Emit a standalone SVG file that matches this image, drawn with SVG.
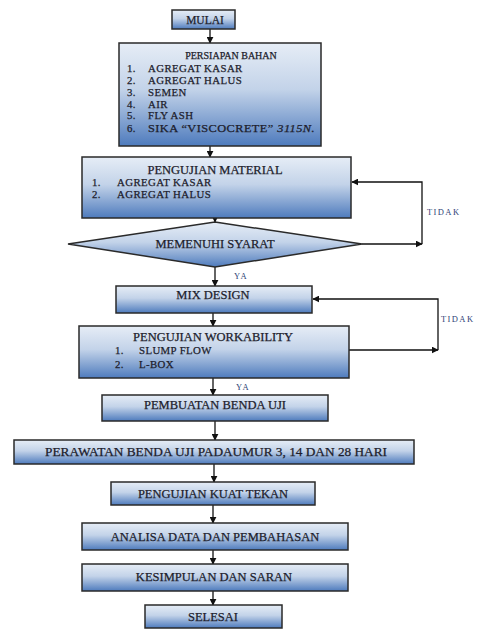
<svg xmlns="http://www.w3.org/2000/svg" width="481" height="629" viewBox="0 0 481 629">
<defs>
<linearGradient id="g" x1="0" y1="0" x2="0" y2="1">
<stop offset="0" stop-color="#e6edf6"/>
<stop offset="0.45" stop-color="#c3d3e9"/>
<stop offset="1" stop-color="#4e7bbd"/>
</linearGradient>
<marker id="ah" viewBox="0 0 10 10" refX="9" refY="5" markerWidth="7" markerHeight="7" markerUnits="userSpaceOnUse" orient="auto">
<path d="M0,0 L10,5 L0,10 z" fill="#111"/>
</marker>
</defs>
<style>
.box{fill:url(#g);stroke:#2a2a2a;stroke-width:1.5}
.t{font-family:"Liberation Serif","Times New Roman",serif;font-size:12.5px;fill:#1d1d2c;stroke:#1d1d2c;stroke-width:0.25}
.s{font-size:10px}
.li{font-size:10.8px;letter-spacing:0.4px}
.c{text-anchor:middle}
.lbl{font-family:"Liberation Serif","Times New Roman",serif;font-size:8.5px;letter-spacing:1.4px;fill:#2f3f78}
.ln{fill:none;stroke:#111;stroke-width:1.3}
</style>
<rect width="481" height="629" fill="#ffffff"/>
<g id="connectors">
<line class="ln" x1="210" y1="29" x2="210" y2="43" marker-end="url(#ah)"/>
<line class="ln" x1="210" y1="146" x2="210" y2="157" marker-end="url(#ah)"/>
<line class="ln" x1="215" y1="218" x2="215" y2="222" marker-end="url(#ah)"/>
<line class="ln" x1="362" y1="244" x2="422" y2="244" marker-end="url(#ah)"/>
<polyline class="ln" points="422,244 422,182 352,182" marker-end="url(#ah)"/>
<line class="ln" x1="215" y1="267" x2="215" y2="286" marker-end="url(#ah)"/>
<line class="ln" x1="213" y1="313" x2="213" y2="326" marker-end="url(#ah)"/>
<line class="ln" x1="347" y1="350" x2="438" y2="350" marker-end="url(#ah)"/>
<polyline class="ln" points="438,350 438,299 313,299" marker-end="url(#ah)"/>
<line class="ln" x1="213" y1="378" x2="213" y2="395" marker-end="url(#ah)"/>
<line class="ln" x1="215" y1="421" x2="215" y2="440" marker-end="url(#ah)"/>
<line class="ln" x1="214" y1="464" x2="214" y2="482" marker-end="url(#ah)"/>
<line class="ln" x1="213" y1="505" x2="213" y2="523" marker-end="url(#ah)"/>
<line class="ln" x1="213" y1="550" x2="213" y2="564" marker-end="url(#ah)"/>
<line class="ln" x1="213" y1="591" x2="213" y2="605" marker-end="url(#ah)"/>
<text class="lbl" x="427" y="215">TIDAK</text>
<text class="lbl" x="441" y="322">TIDAK</text>
<text class="lbl" x="234" y="279">YA</text>
<text class="lbl" x="236" y="390">YA</text>
</g>
<g id="mulai">
<rect class="box" x="172" y="10" width="63" height="19"/>
<text class="t c" x="205" y="23.5" style="font-size:11.5px">MULAI</text>
</g>
<g id="persiapan">
<rect class="box" x="119" y="43" width="202" height="103"/>
<text class="t s c" x="231" y="59">PERSIAPAN BAHAN</text>
<text class="t li" x="127" y="72">1.</text><text class="t li" x="148" y="72">AGREGAT KASAR</text>
<text class="t li" x="127" y="84">2.</text><text class="t li" x="148" y="84">AGREGAT HALUS</text>
<text class="t li" x="127" y="96">3.</text><text class="t li" x="148" y="96">SEMEN</text>
<text class="t li" x="127" y="107.5">4.</text><text class="t li" x="148" y="107.5">AIR</text>
<text class="t li" x="127" y="119">5.</text><text class="t li" x="148" y="119">FLY ASH</text>
<text class="t li" x="127" y="132">6.</text><text class="t li" x="148" y="132" textLength="167" lengthAdjust="spacingAndGlyphs">SIKA “VISCOCRETE” <tspan font-style="italic">3115N.</tspan></text>
</g>
<g id="pengujian-material">
<rect class="box" x="82" y="157" width="269" height="61"/>
<text class="t c" x="215" y="174">PENGUJIAN MATERIAL</text>
<text class="t li" x="92" y="186">1.</text><text class="t li" x="117" y="186">AGREGAT KASAR</text>
<text class="t li" x="92" y="198">2.</text><text class="t li" x="117" y="198">AGREGAT HALUS</text>
</g>
<g id="memenuhi-syarat">
<polygon class="box" points="215,222 362,244 215,267 68,244"/>
<text class="t c" x="215" y="248">MEMENUHI SYARAT</text>
</g>
<g id="mix-design">
<rect class="box" x="116" y="286" width="196" height="27"/>
<text class="t c" x="213" y="299">MIX DESIGN</text>
</g>
<g id="pengujian-workability">
<rect class="box" x="79" y="326" width="270" height="52"/>
<text class="t c" x="213" y="341">PENGUJIAN WORKABILITY</text>
<text class="t li" x="115" y="354">1.</text><text class="t li" x="139" y="354">SLUMP FLOW</text>
<text class="t li" x="115" y="368">2.</text><text class="t li" x="139" y="368">L-BOX</text>
</g>
<g id="pembuatan">
<rect class="box" x="102" y="395" width="226" height="26"/>
<text class="t c" x="215" y="409">PEMBUATAN BENDA UJI</text>
</g>
<g id="perawatan">
<rect class="box" x="14" y="440" width="400" height="24"/>
<text class="t c" x="216" y="456" textLength="342" lengthAdjust="spacingAndGlyphs">PERAWATAN BENDA UJI PADAUMUR 3, 14 DAN 28 HARI</text>
</g>
<g id="kuat-tekan">
<rect class="box" x="111" y="482" width="204" height="23"/>
<text class="t c" x="213" y="498">PENGUJIAN KUAT TEKAN</text>
</g>
<g id="analisa">
<rect class="box" x="82" y="523" width="266" height="27"/>
<text class="t c" x="215" y="541">ANALISA DATA DAN PEMBAHASAN</text>
</g>
<g id="kesimpulan">
<rect class="box" x="82" y="564" width="266" height="27"/>
<text class="t c" x="214" y="581">KESIMPULAN DAN SARAN</text>
</g>
<g id="selesai">
<rect class="box" x="145" y="605" width="137" height="23"/>
<text class="t c" x="213" y="621">SELESAI</text>
</g>
</svg>
